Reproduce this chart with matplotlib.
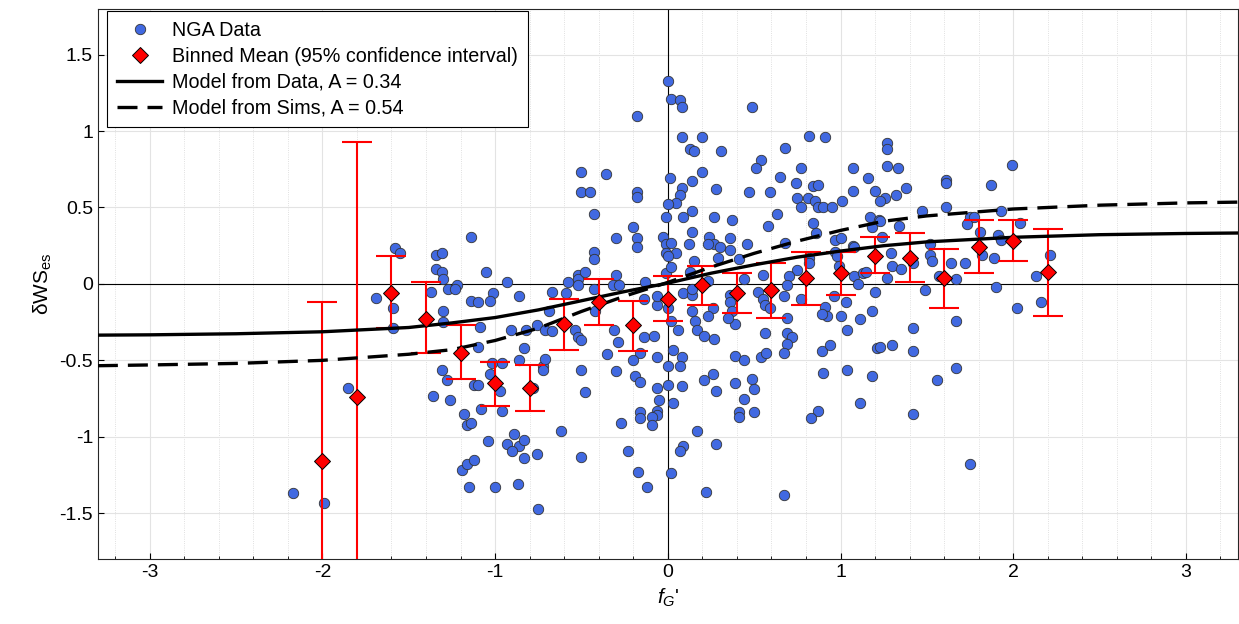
import numpy as np
import matplotlib
matplotlib.use("Agg")
import matplotlib.pyplot as plt
from matplotlib.ticker import MultipleLocator, FuncFormatter

plt.rcParams['font.family'] = ['Liberation Sans', 'DejaVu Sans']
plt.rcParams['mathtext.fontset'] = 'custom'
plt.rcParams['mathtext.rm'] = 'Liberation Sans'
plt.rcParams['mathtext.it'] = 'Liberation Sans:italic'
plt.rcParams['axes.unicode_minus'] = False

# NGA data points
nga_x = [-2.17, -1.99, -1.85,
         -1.58, -1.55, -1.69, -1.59, -1.59,
         -1.34, -1.31, -1.34, -1.31, -1.30, -1.37, -1.27, -1.22, -1.23, -1.30, -1.30, -1.14, -1.14, -1.31,
         -1.36, -1.28, -1.26, -1.18, -1.16, -1.14, -1.12, -1.19, -1.16, -1.12, -1.15,
         -1.05, -0.93, -1.01, -1.03, -1.10, -0.86, -1.09, -0.91, -0.82, -0.76, -0.71, -0.67, -1.10, -0.83,
         -1.02, -0.96, -0.86, -0.72, -0.71, -0.67, -0.59, -0.58, -0.69, -0.52, -0.52, -0.48, -0.52, -0.54,
         -0.52, -0.50, -0.43, -0.43, -0.43, -0.42, -0.30, -0.30, -0.32, -0.28, -0.20, -0.18, -0.18, -0.31,
         -0.29, -0.35, -0.14, -0.13, -0.14, -0.08, -0.06, -0.06, -0.03, -0.01, -0.01, -0.01, 0.00, -0.16,
         -0.06, -0.20, 0.00,
         -1.03, -1.10, -0.97, -1.08, -0.96, -0.89, -1.04, -0.93, -0.86, -0.83, -0.90, -0.83, -0.76, -1.00,
         -0.87, -0.75, -0.78, -0.72, -0.62, -0.48, -0.50, -0.50, -0.30, -0.19, -0.16, -0.06, -0.05, -0.06,
         -0.06, -0.09, -0.09, -0.16, -0.16, -0.27, -0.23, -0.17, -0.12,
         -0.18, -0.50, -0.36, -0.50, -0.45, -0.18, -0.18, -0.43, -0.01,
         0.00, 0.02, 0.07, 0.08, 0.49, 0.08, 0.20, 0.13, 0.15, 0.31, 0.68, 0.82, 0.91, 0.54, 0.51, 0.77,
         0.65, 0.74, 1.07, 1.07, 0.20, 0.14, 0.01, 0.08, 0.07, 0.05, 0.00, 0.09, 0.14, 0.28, 0.27, 0.37,
         0.47, 0.59, 0.63, 0.75, 0.77, 0.81, 0.84, 0.87, 0.85, 0.87, 0.90, 0.95, 1.01,
         1.27, 1.27, 1.27, 1.33, 1.16, 1.20, 1.26, 1.23, 1.32, 1.38, 1.61, 1.61, 1.87, 1.99, 1.47, 1.61,
         1.93, 1.17, 1.22, 1.75, 1.77,
         0.14, 0.24, 0.27, 0.30, 0.23, 0.12, 0.02, 0.05, 0.36, 0.36, 0.29, 0.46, 0.41, 0.58, 0.68, 0.84,
         0.86, 0.97, 1.00, 1.07, 1.08, 0.97, 0.98, 0.99, 0.82, 0.82, 0.75, 0.70, 0.13, 0.15, 0.02, 0.00,
         0.55, 0.44, 0.23, 0.09, 0.14, 0.14, 0.36, 0.36, 0.37, 0.39, 0.35, 0.26, 0.23, 0.14, 0.16, 0.17,
         0.21, 0.27, 0.06, 0.02, 0.52, 0.55, 0.56, 0.59, 0.67, 0.69, 0.77, 0.69, 0.56, 0.69, 0.72, 0.69,
         0.67, 0.39, 0.44, 0.54, 0.57, 0.89, 0.94, 0.91, 0.92, 1.00, 1.03, 0.96, 1.11, 1.04, 1.08, 1.13,
         1.10, 0.03, 0.08, 0.07, 0.89,
         1.18, 1.23, 1.24, 1.34, 1.29, 1.30, 1.35, 1.15, 1.27, 1.42, 1.52, 1.52, 1.53, 1.57, 1.64, 1.72,
         1.67, 1.73, 1.81, 1.82, 1.89, 1.91, 1.93, 2.04, 2.21, 2.13, 1.90, 1.49, 1.20, 1.18, 1.42, 1.67,
         2.02, 2.16, 1.21, 1.23, 1.30, 1.42, 1.67,
         1.18, 1.56, 1.42, 1.75,
         0.00, 0.08, 0.21, 0.26, 0.28, 0.03, 0.17, 0.39, 0.49, 0.50, 0.44, 0.41, 0.41, 0.50, 0.09, 0.07,
         0.28, 0.02, 0.22, 0.67, 0.90, 0.87, 0.83, 1.11, 1.04]
nga_y = [-1.37, -1.43, -0.68,
         0.235, 0.20, -0.09, -0.16, -0.29,
         0.19, 0.20, 0.10, 0.08, 0.03, -0.05, -0.03, -0.01, -0.03, -0.18, -0.25, 0.31, -0.11, -0.56,
         -0.73, -0.63, -0.76, -0.85, -0.92, -0.91, -0.66, -1.22, -1.18, -1.15, -1.33,
         0.08, 0.01, -0.06, -0.11, -0.12, -0.08, -0.28, -0.30, -0.30, -0.27, -0.30, -0.31, -0.41, -0.42,
         -0.52, -0.52, -0.50, -0.54, -0.49, -0.05, -0.06, 0.01, -0.18, 0.06, 0.03, 0.08, -0.01, -0.30,
         -0.35, -0.37, 0.21, 0.16, -0.03, -0.18, 0.30, 0.06, -0.01, -0.01, 0.37, 0.30, 0.24, -0.30,
         -0.38, -0.46, -0.10, 0.01, -0.35, -0.34, -0.14, -0.08, 0.31, 0.26, 0.20, 0.07, -0.16, -0.45,
         -0.48, -0.50, -0.54,
         -0.59, -0.66, -0.70, -0.82, -0.83, -0.98, -1.03, -1.05, -1.06, -1.02, -1.09, -1.14, -1.11, -1.33,
         -1.31, -1.47, -0.68, -0.56, -0.96, -0.71, -1.13, -0.56, -0.57, -0.60, -0.64, -0.68, -0.76, -0.83,
         -0.86, -0.87, -0.92, -0.84, -0.88, -0.91, -1.09, -1.23, -1.33,
         1.10, 0.73, 0.72, 0.60, 0.60, 0.60, 0.57, 0.46, 0.44,
         1.33, 1.21, 1.20, 1.16, 1.16, 0.96, 0.96, 0.88, 0.87, 0.87, 0.89, 0.97, 0.96, 0.81, 0.76, 0.76,
         0.70, 0.66, 0.76, 0.61, 0.73, 0.67, 0.69, 0.63, 0.58, 0.53, 0.52, 0.44, 0.48, 0.62, 0.44, 0.42,
         0.60, 0.60, 0.46, 0.56, 0.50, 0.56, 0.64, 0.65, 0.54, 0.50, 0.50, 0.50, 0.54,
         0.92, 0.88, 0.77, 0.76, 0.69, 0.61, 0.56, 0.54, 0.58, 0.63, 0.68, 0.66, 0.65, 0.78, 0.48, 0.50,
         0.48, 0.44, 0.42, 0.44, 0.44,
         0.34, 0.31, 0.26, 0.24, 0.26, 0.26, 0.27, 0.20, 0.30, 0.22, 0.17, 0.26, 0.16, 0.38, 0.27, 0.40,
         0.33, 0.29, 0.30, 0.25, 0.24, 0.21, 0.18, 0.12, 0.17, 0.14, 0.09, 0.05, 0.08, 0.15, 0.11, 0.18,
         0.06, 0.03, 0.02, -0.06, -0.07, -0.03, -0.07, -0.12, -0.18, -0.26, -0.22, -0.16, -0.21, -0.18, -0.24, -0.30,
         -0.34, -0.36, -0.30, -0.24, -0.05, -0.10, -0.14, -0.16, -0.08, -0.01, -0.10, -0.22, -0.32, -0.32, -0.35, -0.39,
         -0.45, -0.47, -0.50, -0.48, -0.45, -0.44, -0.40, -0.15, -0.21, -0.21, -0.12, -0.08, -0.23, -0.30, 0.05, 0.07,
         0.00, -0.43, -0.48, -0.54, -0.20,
         0.37, 0.41, 0.31, 0.38, 0.20, 0.12, 0.10, 0.08, 0.04, 0.14, 0.26, 0.19, 0.15, 0.05, 0.14, 0.14,
         0.03, 0.39, 0.34, 0.19, 0.17, 0.32, 0.29, 0.40, 0.19, 0.05, -0.02, -0.04, -0.05, -0.18, -0.29, -0.24,
         -0.16, -0.12, -0.42, -0.41, -0.40, -0.44, -0.55,
         -0.60, -0.63, -0.85, -1.18,
         -0.66, -0.67, -0.63, -0.59, -0.70, -0.78, -0.96, -0.65, -0.62, -0.69, -0.75, -0.84, -0.87, -0.84, -1.06, -1.09,
         -1.05, -1.24, -1.36, -1.38, -0.58, -0.83, -0.88, -0.78, -0.56]

# Binned means with 95% confidence bounds
bin_x = [-2.0, -1.8, -1.6, -1.4, -1.2, -1.0, -0.8, -0.6, -0.4, -0.2, 0.0,
         0.2, 0.4, 0.6, 0.8, 1.0, 1.2, 1.4, 1.6, 1.8, 2.0, 2.2]
bin_mean = [-1.16, -0.74, -0.06, -0.23, -0.45, -0.65, -0.68, -0.26, -0.12, -0.27, -0.10,
            -0.01, -0.06, -0.04, 0.04, 0.07, 0.18, 0.17, 0.04, 0.24, 0.28, 0.08]
bin_upper = [-0.12, 0.93, 0.18, 0.01, -0.27, -0.51, -0.53, -0.10, 0.03, -0.11, 0.05,
             0.12, 0.07, 0.14, 0.21, 0.21, 0.31, 0.33, 0.23, 0.42, 0.42, 0.36]
bin_lower = [-2.5, -2.5, -0.29, -0.45, -0.62, -0.80, -0.83, -0.43, -0.27, -0.44, -0.24,
             -0.14, -0.19, -0.22, -0.14, -0.07, 0.07, 0.01, -0.16, 0.07, 0.15, -0.21]

# Model curves
model_x = [-3.3, -3.0, -2.5, -2.0, -1.5, -1.25, -1.0, -0.75, -0.5, -0.25, 0.0,
           0.25, 0.5, 0.75, 1.0, 1.25, 1.5, 2.0, 2.5, 3.0, 3.3]
model_data = [-0.335, -0.333, -0.326, -0.313, -0.285, -0.255, -0.22, -0.17, -0.11, -0.05, 0.005,
              0.07, 0.125, 0.175, 0.215, 0.25, 0.275, 0.305, 0.322, 0.33, 0.333]
model_sims = [-0.535, -0.53, -0.52, -0.50, -0.46, -0.43, -0.37, -0.29, -0.18, -0.08, 0.01,
              0.11, 0.20, 0.28, 0.35, 0.41, 0.445, 0.49, 0.515, 0.53, 0.535]

fig = plt.figure(figsize=(12.39, 6.24), dpi=100)
ax = fig.add_axes([0.079, 0.104, 0.92, 0.882])

# Scatter of the data
ax.plot(nga_x, nga_y, 'o', markersize=7.5, markerfacecolor='#4169e1',
        markeredgecolor='#333333', markeredgewidth=0.6, label='NGA Data', zorder=3)

# Binned means with error bars
bm = np.array(bin_mean)
yerr = [bm - np.array(bin_lower), np.array(bin_upper) - bm]
ax.errorbar(bin_x, bin_mean, yerr=yerr, fmt='none', ecolor='red', elinewidth=1.5,
            capsize=11, capthick=1.5, zorder=4)
ax.plot(bin_x, bin_mean, 'D', markersize=8, markerfacecolor='red',
        markeredgecolor='black', markeredgewidth=0.7, zorder=6,
        label='Binned Mean (95% confidence interval)')

# Models
ax.plot(model_x, model_data, '-', color='black', linewidth=2.4, zorder=5,
        label='Model from Data, A = 0.34')
ax.plot(model_x, model_sims, '--', color='black', linewidth=2.4, dashes=(6, 3), zorder=5,
        label='Model from Sims, A = 0.54')

# Axis lines through origin
ax.axhline(0, color='black', linewidth=0.8, zorder=2)
ax.axvline(0, color='black', linewidth=0.8, zorder=2)

ax.set_xlim(-3.3, 3.3)
ax.set_ylim(-1.8, 1.8)
ax.xaxis.set_major_locator(MultipleLocator(1))
ax.xaxis.set_minor_locator(MultipleLocator(0.2))
ax.yaxis.set_major_locator(MultipleLocator(0.5))
ax.xaxis.set_major_formatter(FuncFormatter(lambda v, p: '%g' % v))
ax.yaxis.set_major_formatter(FuncFormatter(lambda v, p: '%g' % v))
ax.grid(which='major', color='#e3e3e3', linewidth=0.8, zorder=0)
ax.grid(which='minor', axis='x', color='#d6d6d6', linewidth=0.6, linestyle=':', zorder=0)
ax.set_axisbelow(True)
ax.tick_params(which='both', direction='in', labelsize=14, length=4)
ax.tick_params(which='minor', length=2)
for s in ax.spines.values():
    s.set_color('#262626')
    s.set_linewidth(0.8)

ax.set_xlabel(r"$f_{G}$'", fontsize=15)
ax.set_ylabel(r"δWS$_\mathregular{es}$", fontsize=15)

leg = ax.legend(loc='upper left', bbox_to_anchor=(0.008, 0.996), fontsize=14.2,
                frameon=True, fancybox=False, framealpha=1, edgecolor='black',
                borderpad=0.5, handlelength=2.3, handletextpad=0.5,
                labelspacing=0.35, borderaxespad=0)
leg.get_frame().set_linewidth(0.8)

fig.savefig('out.png', dpi=100)
